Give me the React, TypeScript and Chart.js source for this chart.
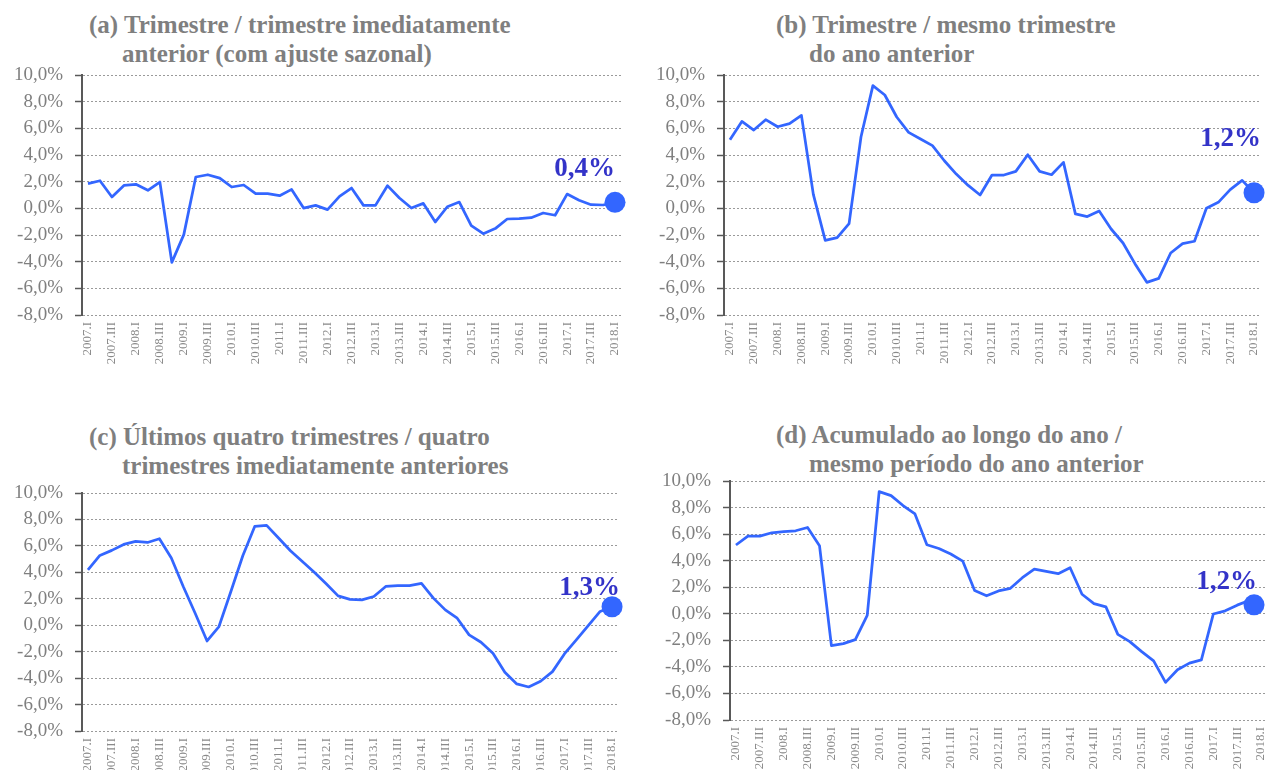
import React, { useEffect, useRef } from 'react';
import { Chart, registerables } from 'chart.js';

Chart.register(...registerables);

// ---------- data ----------
const quarters = [
  '2007.I', '2007.II', '2007.III', '2007.IV',
  '2008.I', '2008.II', '2008.III', '2008.IV',
  '2009.I', '2009.II', '2009.III', '2009.IV',
  '2010.I', '2010.II', '2010.III', '2010.IV',
  '2011.I', '2011.II', '2011.III', '2011.IV',
  '2012.I', '2012.II', '2012.III', '2012.IV',
  '2013.I', '2013.II', '2013.III', '2013.IV',
  '2014.I', '2014.II', '2014.III', '2014.IV',
  '2015.I', '2015.II', '2015.III', '2015.IV',
  '2016.I', '2016.II', '2016.III', '2016.IV',
  '2017.I', '2017.II', '2017.III', '2017.IV',
  '2018.I',
];

// (a) Trimestre / trimestre imediatamente anterior (com ajuste sazonal)
const seriesA = [
  1.85, 2.07, 0.85, 1.72, 1.8, 1.35, 1.97, -4.05,
  -1.97, 2.35, 2.52, 2.27, 1.6, 1.75, 1.1, 1.1,
  0.95, 1.42, 0.02, 0.22, -0.1, 0.9, 1.52, 0.22,
  0.22, 1.7, 0.77, 0.02, 0.37, -1.02, 0.12, 0.47,
  -1.3, -1.9, -1.52, -0.8, -0.78, -0.7, -0.35, -0.52,
  1.07, 0.6, 0.27, 0.25, 0.45,
];

// (b) Trimestre / mesmo trimestre do ano anterior
const seriesB = [
  5.15, 6.52, 5.87, 6.65, 6.12, 6.35, 6.97, 1.05,
  -2.4, -2.2, -1.15, 5.35, 9.2, 8.5, 6.85, 5.7,
  5.2, 4.7, 3.57, 2.57, 1.72, 1.0, 2.5, 2.5,
  2.77, 4.02, 2.77, 2.52, 3.45, -0.42, -0.62, -0.2,
  -1.55, -2.6, -4.15, -5.55, -5.25, -3.35, -2.65, -2.47,
  0.0, 0.45, 1.4, 2.1, 1.17,
];

// (c) Últimos quatro trimestres / quatro trimestres imediatamente anteriores
const seriesC = [
  4.19, 5.28, 5.66, 6.11, 6.34, 6.26, 6.54, 5.08,
  2.93, 0.91, -1.19, -0.1, 2.55, 5.25, 7.47, 7.55,
  6.6, 5.63, 4.82, 4.0, 3.13, 2.22, 1.95, 1.92,
  2.17, 2.93, 3.0, 3.0, 3.16, 2.05, 1.16, 0.53,
  -0.73, -1.29, -2.12, -3.56, -4.44, -4.67, -4.24, -3.51,
  -2.17, -1.11, -0.03, 1.04, 1.4,
];

// (d) Acumulado ao longo do ano / mesmo período do ano anterior
const seriesD = [
  5.18, 5.85, 5.85, 6.1, 6.18, 6.25, 6.5, 5.13,
  -2.4, -2.25, -1.95, -0.12, 9.2, 8.9, 8.15, 7.52,
  5.2, 4.92, 4.5, 3.97, 1.75, 1.35, 1.72, 1.92,
  2.72, 3.37, 3.2, 3.02, 3.47, 1.47, 0.77, 0.52,
  -1.55, -2.1, -2.85, -3.55, -5.17, -4.22, -3.72, -3.47,
  -0.02, 0.22, 0.65, 1.0, 1.2,
];

const valueLabels = ['0,4%', '1,2%', '1,3%', '1,2%'];

const titlesA = ['(a) Trimestre / trimestre imediatamente', 'anterior (com ajuste sazonal)'];
const titlesB = ['(b) Trimestre / mesmo trimestre', 'do ano anterior'];
const titlesC = ['(c) Últimos quatro trimestres / quatro', 'trimestres imediatamente anteriores'];
const titlesD = ['(d) Acumulado ao longo do ano /', 'mesmo período do ano anterior'];

const yMin = -8;
const yMax = 10;
const yStep = 2;

// ---------- style ----------
const SERIF = "'Liberation Serif', 'Times New Roman', serif";
const LINE_BLUE = '#3366FF';
const LABEL_BLUE = '#3333C8';
const GREY_TEXT = '#7F7F7F';

type PanelCfg = {
  left: number; top: number; w: number; h: number;
  padTop: number; padRight: number; yW: number; xH: number;
  data: number[]; label: string;
  dotDx: number; dotDy: number; labDx: number; labDy: number;
  titles: string[]; titleLeft: number[]; titleTop: number[];
};

const panels: PanelCfg[] = [
  {
    left: 0, top: 0, w: 634, h: 385, padTop: 75, padRight: 13, yW: 82, xH: 70,
    data: seriesA, label: valueLabels[0], dotDx: 0, dotDy: 0, labDx: 0, labDy: -26,
    titles: titlesA, titleLeft: [89, 122], titleTop: [11.5, 40.5],
  },
  {
    left: 634, top: 0, w: 633, h: 385, padTop: 75, padRight: 7, yW: 90, xH: 70,
    data: seriesB, label: valueLabels[1], dotDx: 0, dotDy: 0, labDx: 7, labDy: -47,
    titles: titlesB, titleLeft: [776, 809], titleTop: [11.5, 40.5],
  },
  {
    left: 0, top: 385, w: 634, h: 385, padTop: 108, padRight: 16, yW: 82, xH: 39,
    data: seriesC, label: valueLabels[2], dotDx: 0, dotDy: 0, labDx: 8, labDy: -12,
    titles: titlesC, titleLeft: [89, 122], titleTop: [424, 453],
  },
  {
    left: 634, top: 385, w: 633, h: 385, padTop: 96, padRight: 0, yW: 96, xH: 50,
    data: seriesD, label: valueLabels[3], dotDx: -7, dotDy: 7, labDx: 3, labDy: -16,
    titles: titlesD, titleLeft: [776, 809], titleTop: [421.5, 450.5],
  },
];

function fmtPct(v: number): string {
  return v.toFixed(1).replace('.', ',') + '%';
}

function Panel({ cfg }: { cfg: PanelCfg }) {
  const ref = useRef<HTMLCanvasElement | null>(null);

  useEffect(() => {
    if (!ref.current) return;
    const endMarker = {
      id: 'endMarker',
      afterDatasetsDraw(chart: any) {
        const meta = chart.getDatasetMeta(0);
        const pt = meta.data[meta.data.length - 1];
        if (!pt) return;
        const ctx = chart.ctx;
        const cx = pt.x + cfg.dotDx;
        const cy = pt.y + cfg.dotDy;
        ctx.save();
        ctx.beginPath();
        ctx.arc(cx, cy, 10.5, 0, Math.PI * 2);
        ctx.fillStyle = LINE_BLUE;
        ctx.fill();
        ctx.font = `bold 27px ${SERIF}`;
        ctx.fillStyle = LABEL_BLUE;
        ctx.textAlign = 'right';
        ctx.textBaseline = 'alphabetic';
        ctx.fillText(cfg.label, cx + cfg.labDx, cy + cfg.labDy);
        ctx.restore();
      },
    };

    const chart = new Chart(ref.current, {
      type: 'line',
      data: {
        labels: quarters,
        datasets: [
          {
            data: cfg.data,
            borderColor: LINE_BLUE,
            borderWidth: 2.75,
            pointRadius: 0,
            tension: 0,
            fill: false,
            borderJoinStyle: 'round',
            clip: false as any,
          },
        ],
      },
      options: {
        responsive: false,
        maintainAspectRatio: false,
        animation: false,
        devicePixelRatio: 1,
        layout: { padding: { left: 0, right: cfg.padRight, top: cfg.padTop, bottom: 0 } },
        plugins: { legend: { display: false }, tooltip: { enabled: false }, title: { display: false } },
        scales: {
          x: {
            type: 'category',
            offset: true,
            grid: { display: false, drawTicks: false },
            border: { display: false },
            ticks: {
              autoSkip: false,
              maxRotation: 90,
              minRotation: 90,
              padding: 7,
              color: '#8A8A8A',
              font: { family: SERIF, size: 13 },
              callback: (_v: any, i: number) => (i % 2 === 0 ? quarters[i] : ''),
            },
            afterFit: (s: any) => {
              s.height = cfg.xH;
              s.paddingLeft = 0;
              s.paddingRight = 0;
            },
          },
          y: {
            min: yMin,
            max: yMax,
            ticks: {
              stepSize: yStep,
              autoSkip: false,
              padding: 12,
              color: GREY_TEXT,
              font: { family: SERIF, size: 19 },
              callback: (v: any) => fmtPct(Number(v)),
            },
            grid: {
              color: '#9A9A9A',
              lineWidth: 1,
              drawTicks: true,
              tickLength: 7,
              tickColor: '#595959',
              tickWidth: 1.5,
              tickBorderDash: [],
            },
            border: { display: true, color: '#595959', width: 2, dash: [2, 2] },
            afterFit: (s: any) => {
              s.width = cfg.yW;
            },
          },
        },
      } as any,
      plugins: [endMarker],
    });
    return () => chart.destroy();
  }, []);

  return (
    <canvas
      ref={ref}
      width={cfg.w}
      height={cfg.h}
      style={{ position: 'absolute', left: cfg.left, top: cfg.top, width: cfg.w, height: cfg.h }}
    />
  );
}

export default function App() {
  return (
    <div
      style={{
        position: 'fixed', left: 0, top: 0, width: 1267, height: 770,
        background: '#FFFFFF', overflow: 'hidden',
      }}
    >
      {panels.map((p, k) => (
        <React.Fragment key={k}>
          {p.titles.map((t, j) => (
            <div
              key={j}
              style={{
                position: 'absolute', left: p.titleLeft[j], top: p.titleTop[j],
                font: `bold 25px ${SERIF}`, lineHeight: '25px', color: GREY_TEXT, whiteSpace: 'nowrap',
              }}
            >
              {t}
            </div>
          ))}
          <Panel cfg={p} />
        </React.Fragment>
      ))}
    </div>
  );
}
